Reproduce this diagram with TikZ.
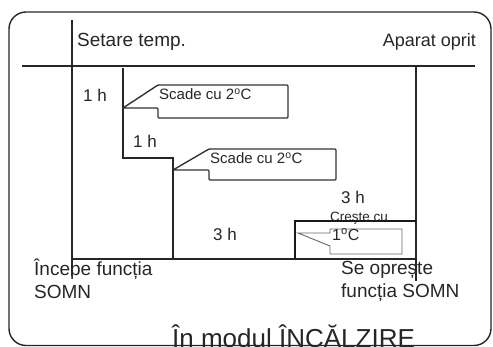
\documentclass[tikz,border=0pt]{standalone}
\usepackage{fontspec}
\setmainfont{Liberation Sans}
\begin{document}
\begin{tikzpicture}[x=1pt,y=-1pt,
  ln/.style={line width=1.4pt,draw=black!85},
  thick line/.style={line width=2.8pt,draw=black!90},
  callout/.style={line width=1.4pt,draw=black!80,rounded corners=1pt},
  thin callout/.style={line width=0.9pt,draw=black!60},
  lbl/.style={inner sep=0pt,anchor=base west,font=\fontsize{17}{19}\selectfont,text=black!85},
  big/.style={lbl,font=\fontsize{19}{21}\selectfont},
  small/.style={lbl,font=\fontsize{15}{17}\selectfont}]
\useasboundingbox (0,0) rectangle (493,347);
% frame
\draw[ln,rounded corners=17pt] (9,12) rectangle (491,345.5);
% axes
\draw[ln] (22,66) -- (475,66);
\draw[ln] (72,20) -- (72,276);
\draw[ln] (72,259) -- (416,259);
\draw[ln] (416,66) -- (416,281);
% staircase
\draw[ln] (123,68) -- (123,158) -- (173,158) -- (173,259);
% labels
\node[big] (setare) at (77,47) {Setare temp.};
\node[lbl,anchor=base east,font=\fontsize{18}{20}\selectfont] (oprit) at (476,47) {Aparat oprit};
\node[lbl] (h1) at (83,102) {1 h};
\node[lbl] (h2) at (133,148) {1 h};
\node[lbl] (h3) at (213,241) {3 h};
\node[lbl] (h4) at (341,204) {3 h};
% callout 1
\draw[callout] (158,85) -- (288,85) -- (288,118) -- (158,118) -- (158,108) -- (123,108) -- cycle;
\node[small] (c1) at (159,100) {Scade cu 2\textsuperscript{o}C};
% callout 2
\draw[callout] (209,149) -- (336,149) -- (336,180) -- (209,180) -- (209,170) -- (173,170) -- cycle;
\node[small] (c2) at (210,164) {Scade cu 2\textsuperscript{o}C};
% rise
\node[lbl,font=\fontsize{13.5}{15}\selectfont] (creste) at (330,221.5) {Creşte cu};
\draw[thick line] (295,259) -- (295,221) -- (416,221);
\draw[thin callout] (330,229) -- (402,229) -- (402,254) -- (330,254) -- (330,246) -- (298,233) -- (330,233) -- cycle;
\node[lbl,font=\fontsize{16}{18}\selectfont] (c3) at (332,241) {1\textsuperscript{o}C};
% bottom labels
\node[big] (start1) at (34,276) {Începe funcția};
\node[big] (start2) at (34,299) {SOMN};
\node[big] (stop1) at (341,275) {Se oprește};
\node[big] (stop2) at (341,298) {funcția SOMN};
\node[lbl,font=\fontsize{26}{28}\selectfont] (title) at (172,348) {În modul ÎNCĂLZIRE};
\end{tikzpicture}
\end{document}
